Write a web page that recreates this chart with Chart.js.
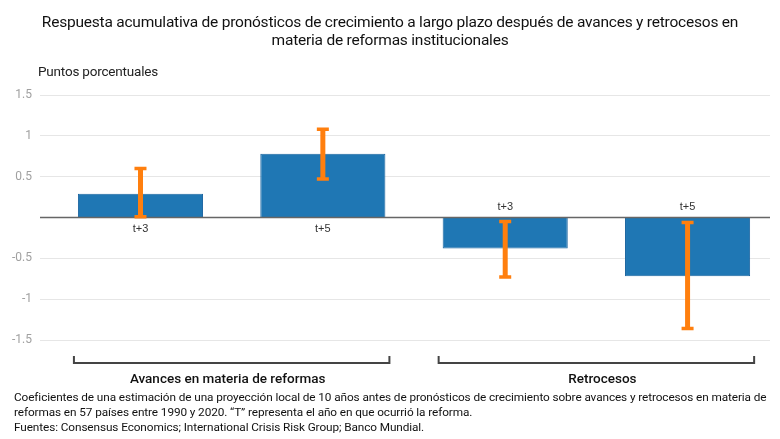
<!DOCTYPE html>
<html><head><meta charset="utf-8">
<script src="https://cdn.jsdelivr.net/npm/chart.js@4/dist/chart.umd.min.js"></script>
<style>
html,body{margin:0;padding:0;background:#fff;}
body{width:780px;height:439px;position:relative;overflow:hidden;font-family:Roboto,"Open Sans",sans-serif;color:#111;}
#title{position:absolute;left:0;top:13px;width:780px;text-align:center;font-size:15.5px;line-height:18px;letter-spacing:-0.22px;color:#111;}
#unit{position:absolute;left:38px;top:63px;font-size:13.5px;color:#222;letter-spacing:-0.2px;}
.grp{position:absolute;top:370px;font-size:13.5px;font-weight:500;color:#111;transform:translateX(-50%);white-space:nowrap;}
#note{position:absolute;left:14px;top:390px;width:766px;font-size:11.8px;line-height:15px;color:#111;letter-spacing:-0.1px;white-space:nowrap;}
#wrap{position:absolute;left:0;top:0;width:780px;height:439px;}
</style></head>
<body>
<div id="wrap"><canvas id="c" width="780" height="439"></canvas></div>
<div id="title">Respuesta acumulativa de pronósticos de crecimiento a largo plazo después de avances y retrocesos en<br>materia de reformas institucionales</div>
<div id="unit">Puntos porcentuales</div>
<div class="grp" id="g1">Avances en materia de reformas</div>
<div class="grp" id="g2">Retrocesos</div>
<div id="note">Coeficientes de una estimación de una proyección local de 10 años antes de pronósticos de crecimiento sobre avances y retrocesos en materia de<br>reformas en 57 países entre 1990 y 2020. “T” representa el año en que ocurrió la reforma.<br>Fuentes: Consensus Economics; International Crisis Risk Group; Banco Mundial.</div>
<script>
const categories = ["t+3", "t+5", "t+3", "t+5"];
const groups = ["Avances en materia de reformas", "Retrocesos"];
const groupMembers = [[0, 1], [2, 3]];
const values = [0.29, 0.78, -0.38, -0.72];
const errHigh = [0.60, 1.08, -0.05, -0.06];
const errLow = [0.01, 0.47, -0.73, -1.36];
const yTicks = [1.5, 1, 0.5, 0, -0.5, -1, -1.5];

const overlay = {
  id: 'overlay',
  afterDatasetsDraw(chart) {
    const ctx = chart.ctx, x = chart.scales.x, y = chart.scales.y;
    const area = chart.chartArea;
    const y0 = y.getPixelForValue(0);
    ctx.save();
    ctx.strokeStyle = '#666'; ctx.lineWidth = 1.5;
    ctx.beginPath(); ctx.moveTo(area.left, y0); ctx.lineTo(area.right, y0); ctx.stroke();
    ctx.strokeStyle = '#ff7f0e';
    for (let i = 0; i < values.length; i++) {
      const cx = x.getPixelForValue(i);
      const yh = y.getPixelForValue(errHigh[i]), yl = y.getPixelForValue(errLow[i]);
      ctx.lineWidth = 5;
      ctx.beginPath(); ctx.moveTo(cx, yh); ctx.lineTo(cx, yl); ctx.stroke();
      ctx.lineWidth = 3.5;
      ctx.beginPath(); ctx.moveTo(cx - 6, yh); ctx.lineTo(cx + 6, yh); ctx.moveTo(cx - 6, yl); ctx.lineTo(cx + 6, yl); ctx.stroke();
    }
    ctx.fillStyle = '#333'; ctx.font = '11px "Liberation Sans", Arial, sans-serif';
    ctx.textAlign = 'center'; ctx.textBaseline = 'middle';
    for (let i = 0; i < categories.length; i++) {
      const cx = x.getPixelForValue(i);
      ctx.fillText(categories[i], cx, values[i] >= 0 ? y0 + 11 : y0 - 11);
    }
    ctx.strokeStyle = '#444'; ctx.lineWidth = 2;
    const by = area.bottom + 23;
    const pos = [];
    groupMembers.forEach(m => {
      const l = x.getPixelForValue(m[0] - 0.365), r = x.getPixelForValue(m[m.length - 1] + 0.365);
      ctx.beginPath(); ctx.moveTo(l, by - 7); ctx.lineTo(l, by); ctx.lineTo(r, by); ctx.lineTo(r, by - 7); ctx.stroke();
      pos.push((l + r) / 2);
    });
    ctx.restore();
    document.getElementById('g1').style.left = (pos[0] - 4) + 'px';
    document.getElementById('g2').style.left = (pos[1] + 6) + 'px';
  }
};

new Chart(document.getElementById('c'), {
  type: 'bar',
  data: {
    datasets: [{
      data: values.map((v, i) => ({ x: i, y: v })),
      backgroundColor: '#1f77b4',
      borderColor: '#1b65a0',
      borderWidth: 1,
      barPercentage: 0.686,
      categoryPercentage: 1.0
    }]
  },
  options: {
    responsive: false,
    animation: false,
    devicePixelRatio: 1,
    layout: { padding: { top: 95, bottom: 99, right: 10, left: 0 } },
    plugins: { legend: { display: false }, tooltip: { enabled: false } },
    scales: {
      x: {
        type: 'linear', min: -0.551, max: 3.452, offset: false, display: false, grid: { display: false },
        afterBuildTicks(s) { s.ticks = categories.map((c, i) => ({ value: i })); }
      },
      y: {
        min: -1.5, max: 1.5,
        afterBuildTicks(s) { s.ticks = yTicks.map(v => ({ value: v })); },
        afterFit(s) { s.width = 40; },
        border: { display: false },
        grid: { color: c => c.tick && c.tick.value === 0 ? 'rgba(0,0,0,0)' : '#e6e6e6', lineWidth: 1, drawTicks: false },
        ticks: {
          padding: 8,
          color: '#a0a0a0',
          font: { family: 'Roboto, sans-serif', size: 12 },
          callback: v => v === 0 ? '' : String(v)
        }
      }
    }
  },
  plugins: [overlay]
});
</script>
</body></html>
